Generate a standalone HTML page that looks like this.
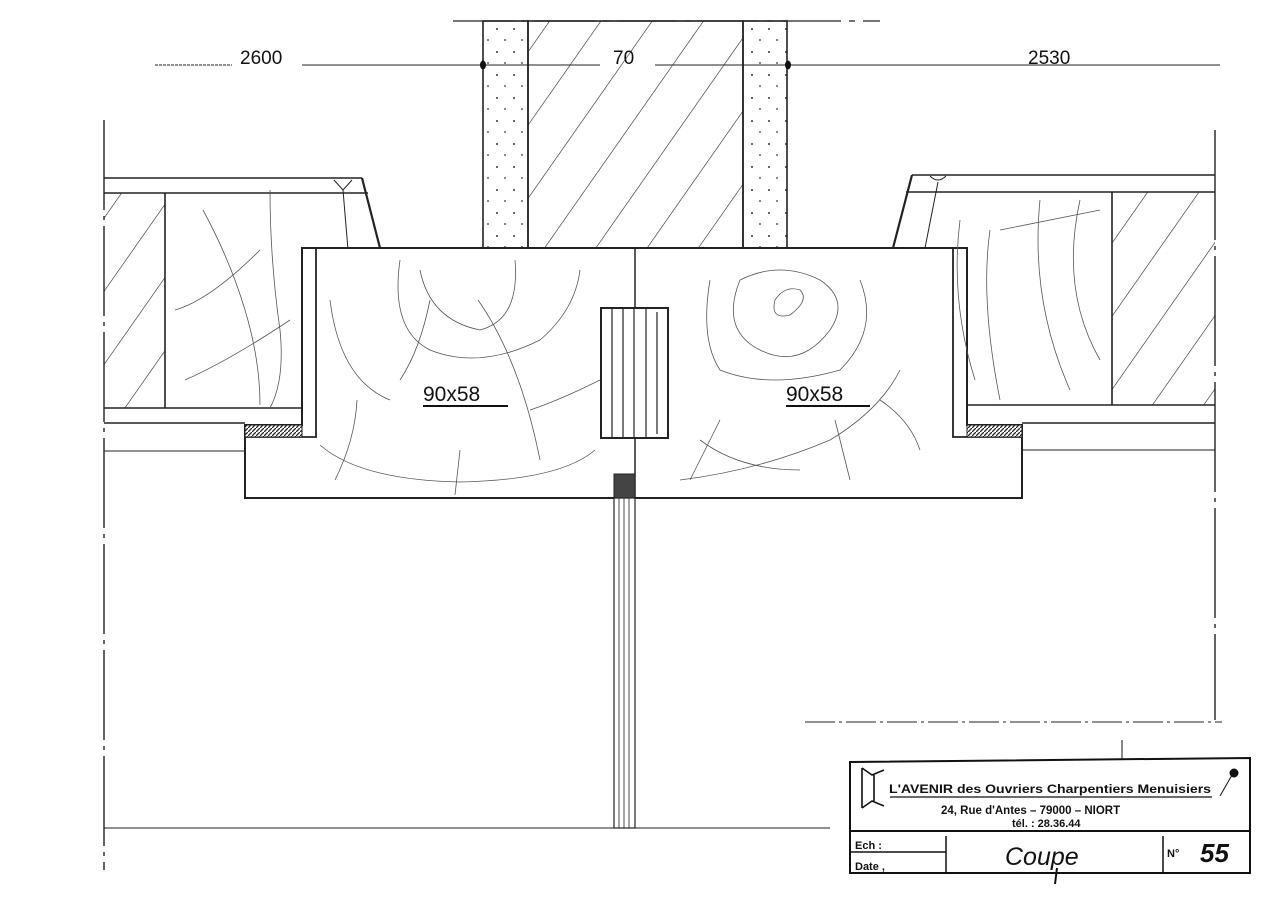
<!DOCTYPE html>
<html><head><meta charset="utf-8"><style>
html,body{margin:0;padding:0;background:#fff;}
svg{display:block;}
text{font-family:"Liberation Sans",sans-serif;fill:#111;}
</style></head><body>
<svg width="1280" height="904" viewBox="0 0 1280 904" xmlns="http://www.w3.org/2000/svg">
<defs>
<pattern id="hatch" patternUnits="userSpaceOnUse" width="42" height="42" patternTransform="rotate(35)">
<line x1="0" y1="0" x2="0" y2="42" stroke="#222" stroke-width="1.2"/>
</pattern>
<pattern id="dots" patternUnits="userSpaceOnUse" width="17" height="23">
<circle cx="4" cy="6" r="1" fill="#333"/><circle cx="12" cy="17" r="0.9" fill="#333"/>
</pattern>
<pattern id="xh" patternUnits="userSpaceOnUse" width="4" height="4">
<rect width="4" height="4" fill="#fff"/><line x1="0" y1="4" x2="4" y2="0" stroke="#222" stroke-width="1.3"/>
</pattern>
</defs>
<g stroke="#222" fill="none" stroke-width="1.6">
<line x1="453" y1="21" x2="880" y2="21" stroke-dasharray="60,8,6,8" stroke-width="1.3"/>
<line x1="155" y1="65" x2="232" y2="65" stroke-width="1" stroke-dasharray="3,1"/>
<line x1="302" y1="65" x2="600" y2="65" stroke-width="1"/>
<line x1="655" y1="65" x2="1220" y2="65" stroke-width="1"/>
<rect x="483" y="21" width="45" height="227" fill="url(#dots)"/>
<rect x="528" y="21" width="215" height="227" fill="url(#hatch)"/>
<rect x="743" y="21" width="44" height="227" fill="url(#dots)"/>
<line x1="104" y1="120" x2="104" y2="870" stroke-dasharray="90,6,4,6" stroke-width="1.4"/>
<rect x="104" y="193" width="61" height="215" fill="url(#hatch)" stroke="none"/>
<line x1="104" y1="178" x2="362" y2="178"/>
<line x1="104" y1="193" x2="368" y2="193"/>
<line x1="362" y1="178" x2="380" y2="248" stroke-width="2.2"/>
<line x1="165" y1="193" x2="165" y2="408"/>
<line x1="104" y1="408" x2="302" y2="408"/>
<line x1="104" y1="423" x2="245" y2="423"/>
<line x1="104" y1="451" x2="245" y2="451" stroke-width="0.9"/>
<path d="M334,180 L343,190 L352,180 M343,190 L348,250" stroke-width="1"/>
<line x1="1215" y1="130" x2="1215" y2="720" stroke-dasharray="110,6,4,6" stroke-width="1.4"/>
<rect x="1112" y="192" width="103" height="213" fill="url(#hatch)" stroke="none"/>
<line x1="912" y1="175" x2="1215" y2="175"/>
<line x1="906" y1="192" x2="1215" y2="192"/>
<line x1="912" y1="175" x2="893" y2="248" stroke-width="2.2"/>
<line x1="1112" y1="192" x2="1112" y2="405"/>
<line x1="967" y1="405" x2="1215" y2="405"/>
<line x1="1022" y1="423" x2="1215" y2="423"/>
<line x1="1022" y1="450" x2="1215" y2="450" stroke-width="0.9"/>
<path d="M930,176 Q938,184 946,176 M938,182 L925,248" stroke-width="1"/>
<path d="M302,248 L967,248 L967,425 L1022,425 L1022,498 L245,498 L245,425 L302,425 Z" fill="#fff" stroke-width="2"/>
<path d="M316,248 L316,437 L245,437 M953,248 L953,437 L1022,437" stroke-width="1.8"/>
<line x1="635" y1="248" x2="635" y2="498" stroke-width="1.5"/>
<rect x="245" y="425" width="57" height="12" fill="url(#xh)" stroke-width="1"/>
<rect x="967" y="425" width="55" height="12" fill="url(#xh)" stroke-width="1"/>
<rect x="601" y="308" width="67" height="130" fill="#fff" stroke-width="2"/>
<path d="M612,308V438M623,308V438M634,308V438M646,308V438M657,312V434" stroke-width="1.2"/>
<rect x="614" y="474" width="21" height="24" fill="#444" stroke-width="1"/>
<rect x="614" y="498" width="21" height="330" fill="#fff" stroke-width="1.2"/>
<path d="M619,498V828M624,498V828M629,498V828" stroke-width="0.8"/>
<line x1="104" y1="828" x2="830" y2="828" stroke-width="1"/>
<line x1="805" y1="722" x2="1222" y2="722" stroke-width="1" stroke-dasharray="30,4,3,4"/>
</g>
<g stroke="#555" fill="none" stroke-width="0.8">
<path d="M203,210 Q230,260 245,310 Q260,360 260,405"/>
<path d="M270,190 Q270,260 280,330 Q285,380 270,408"/>
<path d="M175,310 Q210,300 260,250"/><path d="M185,380 Q230,360 290,320"/>
<path d="M420,270 Q430,320 480,330 Q520,320 515,260"/>
<path d="M400,260 Q390,330 430,350 Q480,370 540,340 Q575,310 580,270"/>
<path d="M330,300 Q340,380 390,400 M530,410 Q560,400 600,380"/>
<path d="M320,445 Q360,480 460,482 Q560,480 595,450"/>
<path d="M430,300 Q420,350 400,380 M478,300 Q520,360 540,460"/>
<path d="M357,400 Q355,440 335,480 M460,450 L455,495"/>
<path d="M740,280 Q720,330 760,350 Q800,370 830,330 Q850,300 820,280 Q780,260 740,280"/>
<path d="M775,300 Q770,320 790,315 Q810,300 800,290 Q785,285 775,300"/>
<path d="M710,280 Q700,340 720,370 Q770,390 840,370 Q880,330 860,280"/>
<path d="M700,440 Q740,470 800,470 M680,480 Q760,470 830,440 Q880,410 900,370"/>
<path d="M835,420 L850,480 M720,420 Q700,460 690,480 M880,400 Q910,420 920,450"/>
<path d="M990,230 Q980,300 1000,400"/><path d="M1040,200 Q1030,300 1070,390"/>
<path d="M1080,200 Q1060,290 1100,360"/><path d="M960,220 Q950,300 975,380"/>
<path d="M1000,230 Q1050,220 1100,210"/>
</g>
<ellipse cx="483" cy="65" rx="3" ry="4.5" fill="#111"/>
<ellipse cx="788" cy="65" rx="3" ry="4.5" fill="#111"/>
<text x="240" y="64" font-size="19">2600</text>
<text x="613" y="64" font-size="19">70</text>
<text x="1028" y="64" font-size="19">2530</text>
<text x="423" y="401" font-size="21">90x58</text>
<line x1="423" y1="406" x2="508" y2="406" stroke="#111" stroke-width="2"/>
<text x="786" y="401" font-size="21">90x58</text>
<line x1="786" y1="406" x2="870" y2="406" stroke="#111" stroke-width="2"/>
<g stroke="#111" fill="none">
<path d="M850,762 L1250,758 L1250,873 L850,873 Z" stroke-width="2"/>
<line x1="850" y1="831" x2="1250" y2="831" stroke-width="2"/>
<line x1="850" y1="852" x2="946" y2="852" stroke-width="1.5"/>
<line x1="946" y1="836" x2="946" y2="873" stroke-width="1.5"/>
<line x1="1163" y1="836" x2="1163" y2="873" stroke-width="1.5"/>
<line x1="1122" y1="740" x2="1122" y2="760" stroke-width="1"/>
<path d="M862,768 L862,808 M862,768 L872,775 L884,770 M862,808 L872,801 L884,806 M874,775 L874,801" stroke-width="1.6"/>
<line x1="890" y1="797" x2="1212" y2="797" stroke-width="1.3"/>
<line x1="1220" y1="796" x2="1232" y2="775" stroke-width="1"/>
<circle cx="1234" cy="773" r="4" fill="#111"/>
<line x1="1057" y1="868" x2="1055" y2="884" stroke-width="2"/>
</g>
<text x="889" y="793" font-size="11.5" font-weight="bold" textLength="322" lengthAdjust="spacingAndGlyphs">L'AVENIR  des Ouvriers Charpentiers Menuisiers</text>
<text x="941" y="814" font-size="11.5" font-weight="bold">24, Rue d'Antes – 79000 – NIORT</text>
<text x="1012" y="827" font-size="11" font-weight="bold">tél. : 28.36.44</text>
<text x="855" y="849" font-size="11" font-weight="bold">Ech :</text>
<text x="855" y="870" font-size="11" font-weight="bold">Date ,</text>
<text x="1005" y="865" font-size="25" font-style="italic">Coupe</text>
<text x="1167" y="857" font-size="11" font-weight="bold">N°</text>
<text x="1200" y="862" font-size="26" font-weight="bold" font-style="italic">55</text>
</svg>
</body></html>
